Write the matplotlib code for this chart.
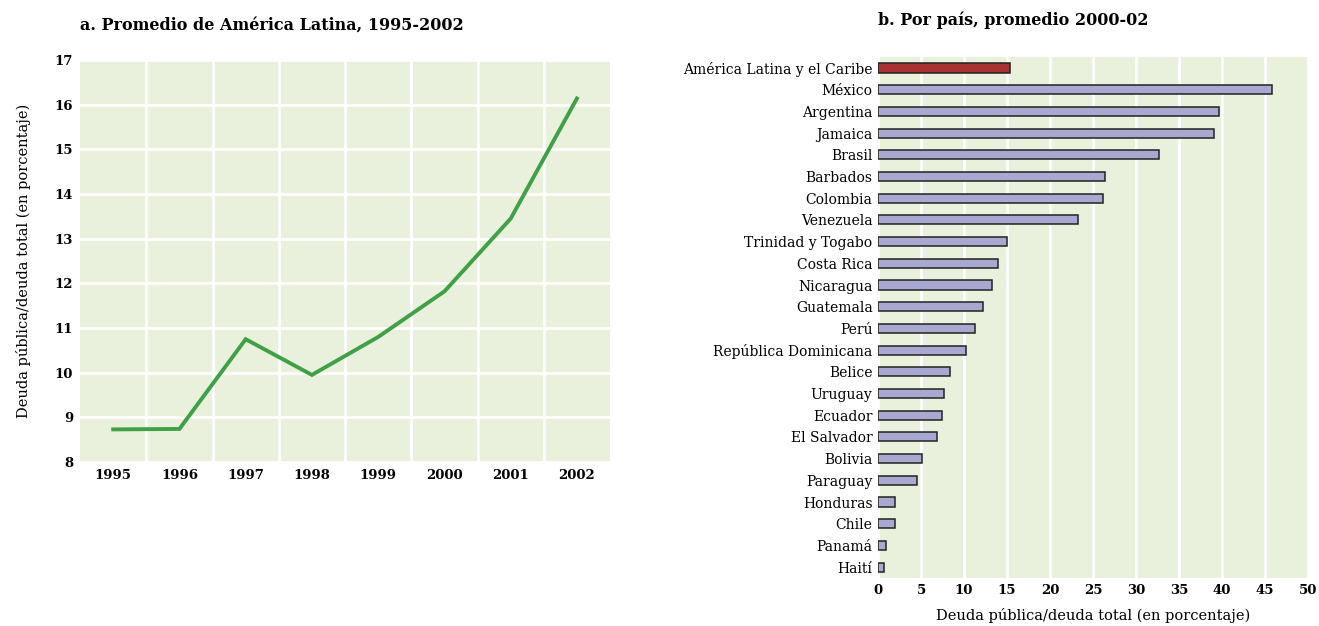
import matplotlib.pyplot as plt

plt.rcParams['font.family'] = ['DejaVu Serif']

# Panel a: promedio de America Latina
years = ['1995', '1996', '1997', '1998', '1999', '2000', '2001', '2002']
avg = [8.73, 8.74, 10.75, 9.95, 10.8, 11.82, 13.45, 16.14]

# Panel b: por pais, promedio 2000-02
countries = ['América Latina y el Caribe', 'México', 'Argentina', 'Jamaica', 'Brasil',
             'Barbados', 'Colombia', 'Venezuela', 'Trinidad y Togabo', 'Costa Rica',
             'Nicaragua', 'Guatemala', 'Perú', 'República Dominicana', 'Belice',
             'Uruguay', 'Ecuador', 'El Salvador', 'Bolivia', 'Paraguay', 'Honduras',
             'Chile', 'Panamá', 'Haití']
share = [15.4, 45.8, 39.7, 39.1, 32.7, 26.4, 26.1, 23.2, 15.0, 13.9,
         13.3, 12.2, 11.3, 10.2, 8.4, 7.7, 7.4, 6.8, 5.1, 4.5, 2.0,
         2.0, 0.9, 0.7]

bg = '#e9f1dc'
green = '#3fa046'
red = '#a83232'
lav = '#a9a8d1'
lab = 'Deuda pública/deuda total (en porcentaje)'

fig = plt.figure(figsize=(13.19, 6.26), dpi=100)

# --- a ---
ax1 = fig.add_axes([0.0607, 0.262, 0.4018, 0.642])
ax1.set_facecolor(bg)
x = range(len(years))
ax1.plot(x, avg, color=green, lw=2.8, solid_joinstyle='miter', zorder=3)
ax1.set_xlim(-0.5, len(years) - 0.5)
ax1.set_ylim(8, 17)
ax1.set_xticks(list(x))
ax1.set_xticklabels(years)
ax1.set_xticks([i + 0.5 for i in range(len(years) - 1)], minor=True)
ax1.set_yticks(range(8, 18))
ax1.grid(False)
ax1.grid(True, which='minor', axis='x', color='white', lw=2)
ax1.grid(True, which='major', axis='y', color='white', lw=2)
ax1.set_axisbelow(True)
ax1.tick_params(length=0, which='both', labelsize=9.5, pad=5)
for t in ax1.get_xticklabels() + ax1.get_yticklabels():
    t.set_fontweight('bold')
for s in ax1.spines.values():
    s.set_visible(False)
ax1.set_ylabel(lab, fontsize=10.5, labelpad=17)
ax1.set_title('a. Promedio de América Latina, 1995-2002', loc='left',
              fontsize=11.5, fontweight='bold', pad=22)

# --- b ---
ax2 = fig.add_axes([0.6657, 0.0767, 0.326, 0.832])
ax2.set_facecolor(bg)
cols = [red] + [lav] * (len(countries) - 1)
ax2.barh(range(len(countries)), share, height=0.42, color=cols,
         edgecolor='#222222', linewidth=1.1, zorder=3)
ax2.set_ylim(len(countries) - 0.5, -0.5)
ax2.set_xlim(0, 50)
ax2.set_xticks(range(0, 55, 5))
ax2.set_yticks(range(len(countries)))
ax2.set_yticklabels(countries, fontsize=10)
ax2.grid(True, axis='x', color='white', lw=2)
ax2.set_axisbelow(True)
ax2.tick_params(length=0, pad=4)
ax2.tick_params(axis='x', labelsize=9.5)
for t in ax2.get_xticklabels():
    t.set_fontweight('bold')
for s in ax2.spines.values():
    s.set_visible(False)
ax2.set_xlabel(lab, fontsize=10.5, labelpad=8)
ax2.set_title('b. Por país, promedio 2000-02', loc='left',
              fontsize=11.5, fontweight='bold', pad=23)

fig.savefig('out.png', dpi=100)
